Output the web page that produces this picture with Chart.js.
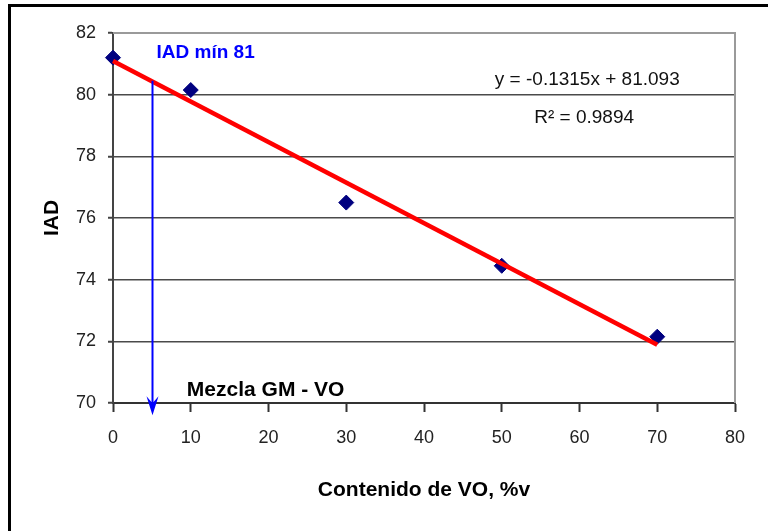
<!DOCTYPE html>
<html>
<head>
<meta charset="utf-8">
<title>IAD vs Contenido de VO</title>
<script src="https://cdn.jsdelivr.net/npm/chart.js@4/dist/chart.umd.min.js"></script>
<style>
  html, body { margin: 0; padding: 0; background: #ffffff; }
  #wrap { position: relative; width: 768px; height: 531px; }
</style>
</head>
<body>
<div id="wrap"><canvas id="chart" width="768" height="531"></canvas></div>
<script>
// Contenido de VO (%v) and measured IAD
const contenidoVO = [0, 10, 30, 50, 70];
const iad = [81.2, 80.15, 76.5, 74.45, 72.15];

// Linear fit reported on the chart
const slope = -0.1315;
const intercept = 81.093;
const r2 = 0.9894;
const fitRange = [0, 70];

// Minimum IAD marker (vertical arrow at 5 %v)
const minLabel = 'IAD mín 81';
const minArrowX = 5;
const minArrowTop = 80.45;

// Axis ranges and tick steps
const xTicks = [0, 80, 10];
const yTicks = [70, 82, 2];

const FONT = '"Liberation Sans", Arial, sans-serif';

const trendPoints = fitRange.map(x => ({ x: x, y: slope * x + intercept }));
const dataPoints = contenidoVO.map((x, i) => ({ x: x, y: iad[i] }));

const fmt = (v, d) => v.toFixed(d);
const eqText = 'y = ' + fmt(slope, 4) + 'x + ' + fmt(intercept, 3);
const r2Text = 'R² = ' + fmt(r2, 4);

const frame = {
  id: 'frame',
  beforeDraw(chart) {
    const ctx = chart.ctx;
    ctx.save();
    ctx.fillStyle = '#ffffff';
    ctx.fillRect(0, 0, chart.width, chart.height);
    // outer border (left and top)
    ctx.strokeStyle = '#000000';
    ctx.lineWidth = 3;
    ctx.beginPath();
    ctx.moveTo(9.5, chart.height + 5);
    ctx.lineTo(9.5, 5.5);
    ctx.lineTo(chart.width + 5, 5.5);
    ctx.stroke();
    ctx.restore();
  },
  beforeDatasetsDraw(chart) {
    const { ctx, chartArea: a } = chart;
    ctx.save();
    ctx.strokeStyle = '#9a9a9a';
    ctx.lineWidth = 2;
    ctx.beginPath();
    ctx.moveTo(a.left, a.top);
    ctx.lineTo(a.right, a.top);
    ctx.lineTo(a.right, a.bottom);
    ctx.stroke();
    ctx.restore();
  },
  afterDatasetsDraw(chart) {
    const ctx = chart.ctx;
    const xs = chart.scales.x, ys = chart.scales.y;
    const px = v => xs.getPixelForValue(v);
    const py = v => ys.getPixelForValue(v);
    ctx.save();

    // minimum IAD arrow
    const ax = Math.round(px(minArrowX)) + 0.5;
    const yTop = py(minArrowTop);
    const tip = py(69.6);
    ctx.strokeStyle = '#0000ff';
    ctx.fillStyle = '#0000ff';
    ctx.lineWidth = 2;
    ctx.beginPath();
    ctx.moveTo(ax, yTop);
    ctx.lineTo(ax, tip - 8);
    ctx.stroke();
    ctx.beginPath();
    ctx.moveTo(ax, tip);
    ctx.lineTo(ax - 6, tip - 19);
    ctx.lineTo(ax, tip - 12);
    ctx.lineTo(ax + 6, tip - 19);
    ctx.closePath();
    ctx.fill();

    // annotations
    ctx.textBaseline = 'middle';
    ctx.textAlign = 'left';
    ctx.fillStyle = '#0000ff';
    ctx.font = 'bold 19px ' + FONT;
    ctx.fillText(minLabel, px(5.6), py(81.35));

    ctx.fillStyle = '#000000';
    ctx.font = 'bold 21px ' + FONT;
    ctx.fillText('Mezcla GM - VO', px(9.5), py(70.42));

    ctx.textAlign = 'center';
    ctx.font = '19px ' + FONT;
    ctx.fillStyle = '#111111';
    ctx.fillText(eqText, px(61.0), py(80.48));
    ctx.fillText(r2Text, px(60.6), py(79.24));
    ctx.restore();
  }
};

new Chart(document.getElementById('chart'), {
  type: 'scatter',
  data: {
    datasets: [
      {
        type: 'line',
        label: 'Lineal',
        data: trendPoints,
        borderColor: '#ff0000',
        borderWidth: 4.5,
        pointRadius: 0,
        fill: false,
        clip: false,
        order: 0
      },
      {
        label: 'IAD',
        data: dataPoints,
        pointStyle: 'rectRot',
        pointRadius: 7.5,
        backgroundColor: '#000080',
        borderColor: '#000080',
        borderWidth: 1,
        clip: false,
        order: 1
      }
    ]
  },
  options: {
    responsive: false,
    animation: false,
    devicePixelRatio: 1,
    layout: { padding: { left: 36, right: 33, top: 33, bottom: 24 } },
    plugins: {
      legend: { display: false },
      tooltip: { enabled: false }
    },
    scales: {
      x: {
        type: 'linear',
        min: xTicks[0], max: xTicks[1],
        ticks: {
          stepSize: xTicks[2],
          color: '#222222',
          font: { family: FONT, size: 18 },
          padding: 15,
          maxRotation: 0
        },
        grid: {
          drawOnChartArea: false,
          drawTicks: true,
          tickLength: 9,
          tickColor: '#333333',
          tickWidth: 2
        },
        border: { display: true, color: '#333333', width: 2 },
        title: {
          display: true,
          text: 'Contenido de VO, %v',
          color: '#000000',
          font: { family: FONT, size: 21, weight: 'bold' },
          padding: { top: 4, bottom: 4 }
        },
        afterFit(scale) { scale.height = 104; }
      },
      y: {
        type: 'linear',
        min: yTicks[0], max: yTicks[1],
        ticks: {
          stepSize: yTicks[2],
          color: '#222222',
          font: { family: FONT, size: 18 },
          padding: 12
        },
        grid: {
          color: ctx => (ctx.tick && ctx.tick.value === yTicks[1]) ? 'rgba(0,0,0,0)' : '#4a4a4a',
          lineWidth: 1.5,
          drawTicks: true,
          tickLength: 5,
          tickColor: '#444444',
          tickWidth: 2
        },
        border: { display: true, color: '#444444', width: 2 },
        title: {
          display: true,
          text: 'IAD',
          color: '#000000',
          font: { family: FONT, size: 21, weight: 'bold' },
          padding: { top: 4, bottom: 4 }
        },
        afterFit(scale) { scale.width = 77; }
      }
    }
  },
  plugins: [frame]
});
</script>
</body>
</html>
